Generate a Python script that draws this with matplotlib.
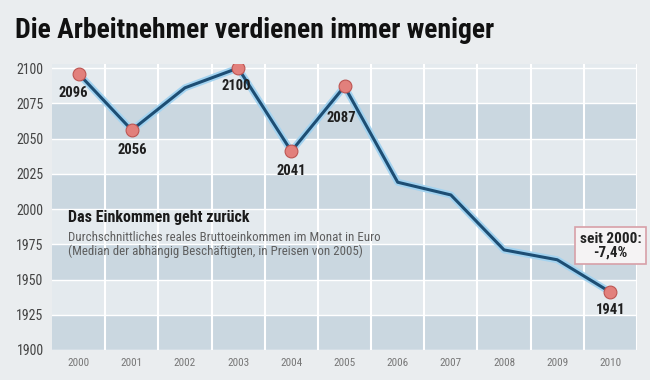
import matplotlib
matplotlib.use("Agg")
import matplotlib.pyplot as plt

plt.rcParams['font.family'] = ['Roboto Condensed', 'DejaVu Sans']

# Data
years = ["2000", "2001", "2002", "2003", "2004", "2005", "2006", "2007", "2008", "2009", "2010"]
income = [2096, 2056, 2086, 2100, 2041, 2087, 2019, 2010, 1971, 1964, 1941]
marked = [0, 1, 3, 4, 5, 10]
y_ticks = [1900, 1925, 1950, 1975, 2000, 2025, 2050, 2075, 2100]

fig = plt.figure(figsize=(6.5, 3.8), dpi=100)
fig.patch.set_facecolor("#eaedef")
ax = fig.add_axes([0.08, 0.079, 0.90, 0.753])
ax.set_facecolor("#e4eaee")

x = list(range(len(years)))

# shaded bands
for lo in [1900, 1950, 2000, 2050]:
    ax.axhspan(lo, lo + 25, color="#cad7e0", zorder=0, lw=0)
for t in y_ticks:
    ax.axhline(t, color="white", lw=1.0, zorder=1)
for k in range(len(years)):
    ax.axvline(k + 0.5, color="white", lw=1.5, zorder=1)

# line with glow
ax.plot(x, income, color="#a3d3f0", lw=5.0, zorder=2, solid_joinstyle="round")
ax.plot(x, income, color="#1d4e74", lw=2.2, zorder=3, solid_joinstyle="round")
ax.scatter([x[i] for i in marked], [income[i] for i in marked], s=85,
           color="#e2807c", edgecolor="#bd5552", linewidth=0.8, zorder=4)

# label offsets in points (dx, dy)
offsets = {0: (-4, -14), 1: (0, -14), 3: (-1, -13), 4: (0, -14), 5: (-2, -23), 10: (0, -13)}
for i in marked:
    ax.annotate(str(income[i]), (x[i], income[i]), xytext=offsets[i],
                textcoords="offset points", ha="center", va="center",
                fontsize=10.5, fontweight="bold", color="#1f1f1f", zorder=5)

ax.set_xlim(-0.5, 10.5)
ax.set_ylim(1900, 2103)
ax.set_yticks(y_ticks)
ax.set_xticks(x)
ax.set_xticklabels(years)
ax.tick_params(axis="both", length=0)
ax.tick_params(axis="y", labelsize=10, pad=6, labelcolor="#444444")
ax.tick_params(axis="x", labelsize=8, pad=6, labelcolor="#777777")
for s in ax.spines.values():
    s.set_visible(False)

# annotation box
ax.text(10, 1974, "seit 2000:\n-7,4%", ha="center", va="center", fontsize=11,
        fontweight="bold", color="#222222", linespacing=1.0, zorder=6,
        bbox=dict(boxstyle="square,pad=0.3", fc="#f5f3f4", ec="#d7a0a8", lw=1.2))

# inner caption
ax.text(-0.2, 1994, "Das Einkommen geht zurück", fontsize=11.5,
        fontweight="bold", color="#1a1a1a", va="center")
ax.text(-0.2, 1980, "Durchschnittliches reales Bruttoeinkommen im Monat in Euro",
        fontsize=9.3, color="#5e5e5e", va="center")
ax.text(-0.2, 1970, "(Median der abhängig Beschäftigten, in Preisen von 2005)",
        fontsize=9.3, color="#5e5e5e", va="center")

# title
fig.text(0.023, 0.921, "Die Arbeitnehmer verdienen immer weniger", fontsize=20,
         fontweight="bold", color="#111111", va="center")

fig.savefig("out.png", dpi=100, facecolor=fig.get_facecolor())
